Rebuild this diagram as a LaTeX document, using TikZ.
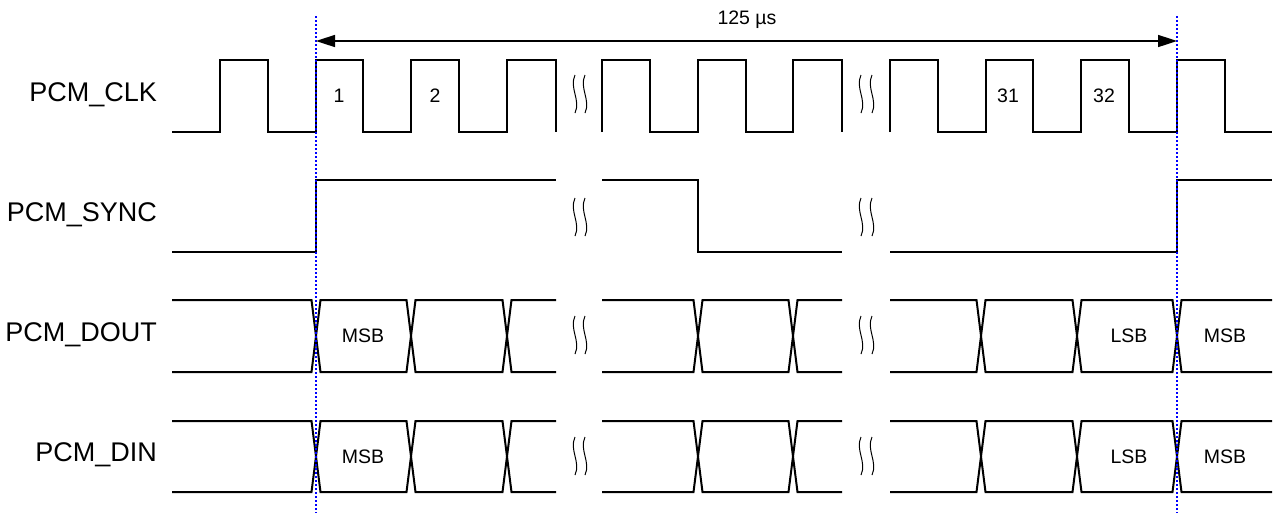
\documentclass[tikz,border=0pt]{standalone}
\usepackage{fontspec}
\setmainfont{Liberation Sans}
\usetikzlibrary{arrows.meta}
\tikzset{
  sig/.style={line width=2pt, line join=miter, black},
  brk/.style={line width=1pt, black},
  marker/.style={blue, line width=1.4pt, dash pattern=on 2pt off 2pt},
  span/.style={line width=1.6pt, {Triangle[length=19pt,width=12pt]}-{Triangle[length=19pt,width=12pt]}},
  rowlabel/.style={anchor=east, inner sep=0pt, font=\fontsize{27}{32}\selectfont},
  small/.style={inner sep=0pt, font=\fontsize{19.5}{23}\selectfont}
}
\newcommand{\mybreak}[1]{%
  \foreach \bx in {575,585,861,872}{
    \draw[brk] (\bx,#1-19) .. controls (\bx-6,#1-6) and (\bx+6,#1+6) .. (\bx,#1+19);
  }}
\newcommand{\mybus}[2]{%
  \draw[sig] (172,#1) -- (311.5,#1) -- (320.5,#2) -- (406.5,#2) -- (415.5,#1) -- (502.5,#1) -- (511.5,#2) -- (556,#2);
  \draw[sig] (172,#2) -- (311.5,#2) -- (320.5,#1) -- (406.5,#1) -- (415.5,#2) -- (502.5,#2) -- (511.5,#1) -- (556,#1);
  \draw[sig] (602,#1) -- (693.5,#1) -- (702.5,#2) -- (788.5,#2) -- (797.5,#1) -- (842,#1);
  \draw[sig] (602,#2) -- (693.5,#2) -- (702.5,#1) -- (788.5,#1) -- (797.5,#2) -- (842,#2);
  \draw[sig] (890,#1) -- (976.5,#1) -- (985.5,#2) -- (1072.5,#2) -- (1081.5,#1) -- (1172.5,#1) -- (1181.5,#2) -- (1272,#2);
  \draw[sig] (890,#2) -- (976.5,#2) -- (985.5,#1) -- (1072.5,#1) -- (1081.5,#2) -- (1172.5,#2) -- (1181.5,#1) -- (1272,#1);
}
\begin{document}
\begin{tikzpicture}[x=1pt,y=-1pt]
\useasboundingbox (0,0) rectangle (1275,515);
% labels
\node[rowlabel] (lclk)  at (157,95)  {PCM\_CLK};
\node[rowlabel] (lsync) at (157,215) {PCM\_SYNC};
\node[rowlabel] (ldout) at (157,335) {PCM\_DOUT};
\node[rowlabel] (ldin)  at (157,455) {PCM\_DIN};
% clock
\draw[sig] (172,132) -| (220,60) -| (268,132) -| (316,60) -| (363,132) -| (411,60) -| (459,132) -| (507,60) -| (556,132);
\draw[sig] (602,132) -- (602,60) -| (650,132) -| (698,60) -| (746,132) -| (793,60) -| (842,132);
\draw[sig] (890,132) -- (890,60) -| (938,132) -| (986,60) -| (1033,132) -| (1081,60) -| (1129,132) -| (1177,60) -| (1225,132) -- (1272,132);
\node[small] (n1)  at (339,96)  {1};
\node[small] (n2)  at (435,96)  {2};
\node[small] (n31) at (1008,96) {31};
\node[small] (n32) at (1104,96) {32};
% sync
\draw[sig] (172,252) -| (316,180) -- (556,180);
\draw[sig] (602,180) -| (698,252) -- (842,252);
\draw[sig] (890,252) -| (1177,180) -- (1272,180);
% buses
\mybus{300}{372}
\mybus{421}{492}
\node[small] (m1) at (363,336)  {MSB};
\node[small] (l1) at (1129,336) {LSB};
\node[small] (r1) at (1225,336) {MSB};
\node[small] (m2) at (363,457)  {MSB};
\node[small] (l2) at (1129,457) {LSB};
\node[small] (r2) at (1225,457) {MSB};
% breaks
\mybreak{94}
\mybreak{217}
\mybreak{335}
\mybreak{456}
% markers
\coordinate (ta) at (316,16);
\coordinate (tb) at (316,513);
\coordinate (tc) at (1177,16);
\coordinate (td) at (1177,513);
\draw[marker] (ta) -- (tb);
\draw[marker] (tc) -- (td);
% period arrow
\coordinate (pa) at (316,41);
\coordinate (pb) at (1177,41);
\draw[span] (pa) -- (pb);
\node[small] (per) at (747,20) {125 µs};
\end{tikzpicture}
\end{document}
